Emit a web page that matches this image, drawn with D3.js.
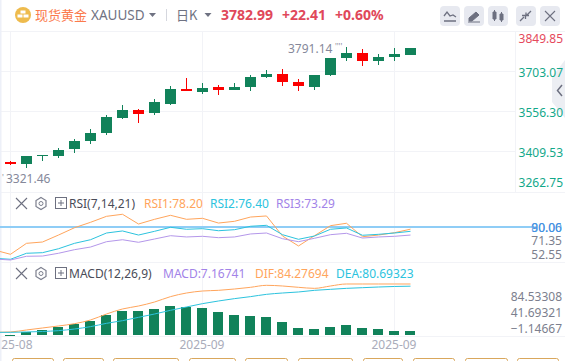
<!DOCTYPE html>
<html>
<head>
<meta charset="utf-8">
<script src="https://d3js.org/d3.v7.min.js"></script>
<style>
    html, body { margin: 0; padding: 0; background: #fff; }
    svg { display: block; font-family: "Noto Sans", "Noto Sans CJK SC", sans-serif; }
    .axis path, .axis line { display: none; }
    .axis text { font-size: 12px; font-family: "Noto Sans", sans-serif; }
</style>
</head>
<body>
<div id="chart"></div>
<script>
// candle data, the first one sits just off the left edge
const open = [3350, 3370.3, 3363.0, 3392.3, 3392.3, 3418.0, 3447.3, 3476.7, 3530.6, 3560.0, 3549.0, 3582.0, 3637.0, 3626.0, 3644.4, 3633.4, 3644.4, 3681.1, 3692.1, 3662.7, 3644.4, 3688.4, 3750.8, 3769.1, 3739.8, 3754.4, 3761.8];
const high = [3375, 3374.0, 3391.2, 3396.0, 3421.6, 3453.6, 3490.3, 3541.6, 3578.3, 3563.6, 3600.3, 3648.0, 3677.4, 3659.0, 3651.7, 3659.0, 3688.4, 3706.7, 3710.4, 3673.7, 3688.4, 3750.8, 3791.14, 3783.8, 3765.4, 3787.5, 3787.5];
const low = [3321.46, 3358.2, 3348.3, 3374.0, 3385.0, 3403.3, 3436.3, 3469.4, 3527.0, 3513.4, 3541.6, 3578.3, 3629.7, 3618.7, 3615.0, 3633.4, 3629.7, 3677.4, 3648.0, 3629.7, 3633.4, 3684.7, 3739.8, 3721.4, 3725.1, 3739.8, 3761.8];
const close = [3372, 3363.0, 3391.2, 3396.0, 3413.2, 3446.2, 3475.6, 3533.2, 3560.0, 3545.3, 3589.3, 3637.0, 3629.7, 3640.7, 3633.4, 3644.4, 3681.1, 3692.1, 3662.7, 3648.0, 3688.4, 3750.8, 3769.1, 3739.8, 3754.4, 3765.4, 3787.5];

const rsi1 = [60.8, 57.25, 66.4, 67.5, 73.3, 79.4, 83.9, 88.9, 90.6, 82.5, 86.4, 89.75, 86.4, 87.25, 83.3, 84.75, 88.3, 89.2, 72.5, 64.2, 72.75, 81.1, 83.1, 71.9, 73.3, 75.25, 78.2];
const rsi2 = [53.9, 53.1, 58.1, 58.6, 61.9, 66.4, 69.4, 75, 76.7, 73.3, 76.4, 79.75, 78.1, 78.6, 76.9, 77.75, 80.6, 81.4, 73.6, 69.75, 72.5, 78.1, 79.2, 73.1, 73.9, 75, 76.4];
const rsi3 = [53.3, 52.5, 55.6, 55.8, 58.1, 61.1, 63.3, 67.75, 69.4, 67.25, 70, 72.75, 71.7, 72.25, 71.1, 71.7, 74.2, 75, 70.25, 67.75, 70.6, 73.6, 74.75, 70.8, 71.7, 72.25, 73.29];

const macdBars = [-2, -1.65, 4.4, 7.7, 13.2, 18.2, 23.1, 33.1, 39.7, 39.7, 43.0, 47.9, 46.3, 44.6, 38.0, 33.1, 31.4, 29.8, 21.5, 11.6, 9.9, 13.2, 16.5, 11.6, 9.9, 6.6, 7.17];
const dif = [4.4, 5.0, 8.3, 11.6, 14.9, 18.7, 24.8, 34.7, 43.0, 47.9, 54.5, 63.4, 69.4, 72.7, 73.8, 76.0, 78.8, 82.1, 81.0, 78.8, 77.1, 81.0, 84.3, 84.3, 84.3, 84.3, 84.28];
const dea = [4.4, 4.4, 5.0, 5.8, 7.2, 9.9, 13.8, 19.3, 23.7, 29.2, 34.7, 40.8, 46.3, 51.8, 56.2, 60.1, 63.4, 67.2, 69.4, 71.1, 73.8, 75.5, 77.1, 78.2, 79.3, 80.2, 80.69];

const priceTicks = [3849.85, 3703.07, 3556.30, 3409.53, 3262.75];
const rsiTicks = [90.06, 71.35, 52.55];
const macdTicks = [84.53308, 41.69321, -1.14667];
const dateLabels = ["25-08", "2025-09", "2025-09"];
const dateIndex = [1, 13, 25];
const tabWidths = [[12, 53], [63, 103], [113, 178], [189, 235], [245, 287], [298, 352], [363, 402], [413, 454], [465, 507], [517, 558]];

const W = 565, H = 361;
const colors = { up: "#11825a", down: "#fb0000", grid: "#f2f3f7", orange: "#ffa55c", cyan: "#2cc3de", purple: "#a283e8", axis: "#7c7f8e" };

const svg = d3.select("#chart").append("svg").attr("width", W).attr("height", H);

// scales
const x = d3.scaleLinear().domain([0, 26]).range([-5.5, 410.5]);
const yPrice = d3.scaleLinear().domain([3262.75, 3849.85]).range([191, 31]);
const yRsi = d3.scaleLinear().domain([52.5, 90.6]).range([260, 214.28]);
const yRsiAxis = d3.scaleLinear().domain([52.55, 71.35]).range([253.3, 240]);
const yMacd = d3.scaleLinear().domain([0, 84.28]).range([335, 284]);
const yMacdAxis = d3.scaleLinear().domain([-1.14667, 84.53308]).range([328, 296]);

// grid
const grid = svg.append("g").attr("stroke", colors.grid).attr("shape-rendering", "crispEdges");
[31, 192, 262, 336].forEach(y => grid.append("line").attr("x1", 0).attr("x2", W).attr("y1", y + .5).attr("y2", y + .5));
priceTicks.slice(1, 4).forEach(p => grid.append("line").attr("x1", 0).attr("x2", 515).attr("y1", Math.round(yPrice(p)) + .5).attr("y2", Math.round(yPrice(p)) + .5));
dateIndex.forEach(i => grid.append("line").attr("x1", Math.floor(x(i)) + .5).attr("x2", Math.floor(x(i)) + .5).attr("y1", 31).attr("y2", 336));
grid.append("line").attr("x1", 515).attr("x2", 515).attr("y1", 31).attr("y2", 192);
svg.append("rect").attr("x", 0).attr("y", 0).attr("width", 1.5).attr("height", H).attr("fill", "#edf0f8");

// candles
const candles = svg.append("g").attr("shape-rendering", "crispEdges");
const idx = d3.range(open.length);
candles.selectAll(".wick").data(idx).enter().append("rect")
    .attr("x", i => Math.floor(x(i)))
    .attr("width", 1)
    .attr("y", i => yPrice(high[i]))
    .attr("height", i => yPrice(low[i]) - yPrice(high[i]))
    .attr("fill", i => close[i] >= open[i] ? colors.up : colors.down);
candles.selectAll(".body").data(idx).enter().append("rect")
    .attr("x", i => Math.floor(x(i)) - 5)
    .attr("width", 11)
    .attr("y", i => yPrice(Math.max(open[i], close[i])))
    .attr("height", i => Math.max(1, Math.abs(yPrice(open[i]) - yPrice(close[i]))))
    .attr("fill", i => close[i] >= open[i] ? colors.up : colors.down);

// collapse tab on the right edge, sits under the price labels
svg.append("path").attr("d", "M565,60 L552,77 L552,102 L565,118 Z").attr("fill", "#eceef3");
svg.append("path").attr("d", "M562,85 L557.5,90.5 L562,96").attr("fill", "none").attr("stroke", "#6d7080").attr("stroke-width", 1.5);

// price axis
const priceAxis = svg.append("g").attr("class", "axis").attr("transform", "translate(563,0)")
    .call(d3.axisLeft(yPrice).tickValues(priceTicks).tickSize(0).tickPadding(0).tickFormat(d3.format(".2f")));
priceAxis.selectAll("text")
    .attr("fill", d => d === priceTicks[0] ? "#e5495c" : "#13a88a")
    .attr("dy", d => d === priceTicks[0] ? "0.95em" : d === priceTicks[4] ? "-0.35em" : "0.45em");

// price extremes
svg.append("text").attr("x", 288).attr("y", 53).attr("font-size", 12).attr("fill", "#85889a").text("3791.14");
svg.append("text").attr("x", 335).attr("y", 50).attr("font-size", 8).attr("fill", "#85889a").text("''''");
svg.append("text").attr("x", 6).attr("y", 183).attr("font-size", 12).attr("fill", "#85889a").text("3321.46");
svg.append("text").attr("x", 2).attr("y", 181).attr("font-size", 8).attr("fill", "#85889a").text("'");

// RSI pane
const rsiLine = d3.line().x((d, i) => x(i)).y(d => yRsi(d));
svg.append("line").attr("x1", 0).attr("x2", 532).attr("y1", yRsi(80)).attr("y2", yRsi(80)).attr("stroke", "#8fcdf6").attr("stroke-width", 2);
[[rsi1, colors.orange], [rsi2, colors.cyan], [rsi3, "#b497ea"]].forEach(([s, c]) => {
    svg.append("path").attr("d", rsiLine(s)).attr("fill", "none").attr("stroke", c).attr("stroke-width", 1);
});
const rsiAxis = svg.append("g").attr("class", "axis").attr("transform", "translate(562,0)")
    .call(d3.axisLeft(yRsiAxis).tickValues(rsiTicks).tickSize(0).tickPadding(0).tickFormat(d3.format(".2f")));
rsiAxis.selectAll("text").attr("fill", (d, i) => i === 0 ? "#4d8fd8" : colors.axis).attr("dy", "0.4em");
svg.append("text").attr("x", 562).attr("y", yRsi(80) + 4.5).attr("text-anchor", "end").attr("font-size", 12)
    .attr("font-family", "Noto Sans").attr("fill", "#3f93e6").attr("opacity", .85).text("80.00");

// MACD pane
const macdLine = s => d3.line().x((d, i) => x(i)).y(d => yMacd(d)).curve(d3.curveMonotoneX)(s);
svg.append("g").attr("shape-rendering", "crispEdges").selectAll("rect").data(idx).enter().append("rect")
    .attr("x", i => Math.floor(x(i)) - 5)
    .attr("width", 10)
    .attr("y", i => Math.min(yMacd(macdBars[i]), yMacd(0)))
    .attr("height", i => Math.abs(yMacd(macdBars[i]) - yMacd(0)))
    .attr("fill", colors.up);
svg.append("path").attr("d", macdLine(dif)).attr("fill", "none").attr("stroke", colors.orange).attr("stroke-width", 1);
svg.append("path").attr("d", macdLine(dea)).attr("fill", "none").attr("stroke", colors.cyan).attr("stroke-width", 1);
const macdAxis = svg.append("g").attr("class", "axis").attr("transform", "translate(562,0)")
    .call(d3.axisLeft(yMacdAxis).tickValues(macdTicks).tickSize(0).tickPadding(0).tickFormat(d3.format(".5f")));
macdAxis.selectAll("text").attr("fill", colors.axis).attr("dy", "0.4em");

// date labels, end anchored so the cut off first one lines up
dateLabels.forEach((d, k) => {
    svg.append("text").attr("x", x(dateIndex[k]) + 22).attr("y", 349).attr("text-anchor", "end")
        .attr("font-size", 12).attr("fill", "#a9acba").text(d);
});

// bottom tabs, cut off by the window
svg.append("g").selectAll("rect").data(tabWidths).enter().append("rect")
    .attr("x", d => d[0] + .5).attr("y", 358.5).attr("width", d => d[1] - d[0]).attr("height", 14).attr("rx", 2)
    .attr("fill", "none").attr("stroke", "#d9a75c");

// pane legends
function legend(y, name, items) {
    const g = svg.append("g");
    g.append("path").attr("d", `M16,${y - 6} L27,${y + 5} M27,${y - 6} L16,${y + 5}`).attr("stroke", "#6d7080").attr("stroke-width", 1.1);
    g.append("path").attr("d", `M41,${y - 6.5} L46,${y - 3.5} L46,${y + 2.5} L41,${y + 5.5} L36,${y + 2.5} L36,${y - 3.5} Z`)
        .attr("fill", "none").attr("stroke", "#7c7f8e").attr("stroke-width", 1.2);
    g.append("circle").attr("cx", 41).attr("cy", y - .5).attr("r", 2).attr("fill", "none").attr("stroke", "#7c7f8e");
    g.append("rect").attr("x", 55.5).attr("y", y - 6.5).attr("width", 11).attr("height", 11).attr("fill", "none").attr("stroke", "#6d7080");
    g.append("path").attr("d", `M58,${y - 1} L64,${y - 1} M61,${y - 4} L61,${y + 2}`).attr("stroke", "#6d7080");
    g.append("text").attr("x", 69).attr("y", y + 4).attr("font-size", 12).attr("fill", "#4a4c58").text(name);
    items.forEach(it => {
        g.append("text").attr("x", it[0]).attr("y", y + 4).attr("font-size", 12).attr("fill", it[2]).text(it[1]);
    });
}
legend(204, "RSI(7,14,21)", [[144, "RSI1:78.20", colors.orange], [210, "RSI2:76.40", colors.cyan], [276, "RSI3:73.29", colors.purple]]);
legend(274, "MACD(12,26,9)", [[163, "MACD:7.16741", colors.purple], [255, "DIF:84.27694", colors.orange], [336, "DEA:80.69323", colors.cyan]]);

// header
svg.append("circle").attr("cx", 23).attr("cy", 15).attr("r", 8).attr("fill", "#eebb4d");
svg.append("path").attr("d", "M20.5,10.5 h5 v3 h-5 Z M17.5,14.5 h5 v3 h-5 Z M23.5,14.5 h5 v3 h-5 Z").attr("fill", "#fff");
const head = [
    [35, "现货黄金", "#fb7a4c", 400, 13],
    [91, "XAUUSD", "#6f7282", 400, 13.5],
    [176, "日K", "#6f7282", 400, 13],
    [221, "3782.99", "#e0485a", 700, 14],
    [282, "+22.41", "#e0485a", 700, 14],
    [335, "+0.60%", "#e0485a", 700, 14]
];
svg.selectAll(".head").data(head).enter().append("text")
    .attr("x", d => d[0]).attr("y", 19.5).attr("font-size", d => d[4])
    .attr("font-family", d => d[1] === "现货黄金" || d[1] === "日K" ? "Noto Sans CJK SC" : "Noto Sans")
    .attr("font-weight", d => d[3]).attr("fill", d => d[2]).text(d => d[1]);
svg.append("path").attr("d", "M149,13 h7 l-3.5,4 Z M204.5,13 h7 l-3.5,4 Z").attr("fill", "#6f7282");
svg.append("line").attr("x1", 166.5).attr("x2", 166.5).attr("y1", 9).attr("y2", 21).attr("stroke", "#d5d7de");

// toolbar buttons
const buttons = [440, 464, 488, 516, 540];
svg.selectAll(".btn").data(buttons).enter().append("rect")
    .attr("x", d => d).attr("y", 6).attr("width", 20).attr("height", 20).attr("rx", 4).attr("fill", "#e7e9f0");
const ic = "#6d7080";
svg.append("path").attr("d", "M444,16 L447,12 L450,16 L453,15 L456,17 M444,21 H456").attr("fill", "none").attr("stroke", ic).attr("stroke-width", 1.3);
svg.append("path").attr("d", "M469,18 L476,12 L479,15 L472,21 L469,21 Z M468,22 H480").attr("fill", ic).attr("stroke", ic);
svg.append("path").attr("d", "M493,12 h3 v7 h-3 Z M500,14 h3 v6 h-3 Z M494.5,10 v11 M501.5,12 v10").attr("fill", ic).attr("stroke", ic);
svg.append("path").attr("d", "M520,21 L524,17 M531,11 L527,15 M522,15.5 h3.5 v3.5 M529,15.5 h-3 v-3").attr("fill", "none").attr("stroke", ic).attr("stroke-width", 1.3);
svg.append("path").attr("d", "M545,11 L555,21 M555,11 L545,21").attr("stroke", ic).attr("stroke-width", 1.1);
</script>
</body>
</html>
